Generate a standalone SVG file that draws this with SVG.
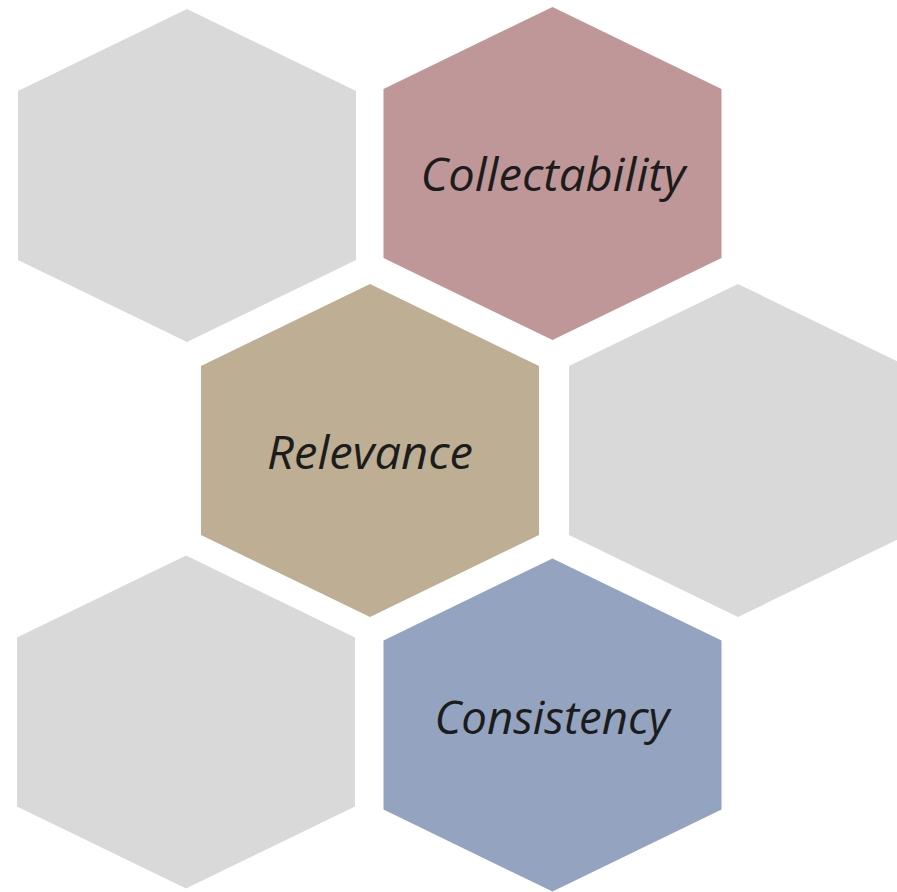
<svg xmlns="http://www.w3.org/2000/svg" width="897" height="892" viewBox="0 0 897 892">
<style>
.lbl{font-family:"Open Sans","Liberation Sans",sans-serif;font-style:italic;font-size:46px;fill:#1c1c1c;text-anchor:middle}
.gray{fill:#D9D9D9}
</style>
<defs>
<path id="hex" d="M0,-166.5 L169,-84.5 L169,84.5 L0,166.5 L-169,84.5 L-169,-84.5 Z"/>
</defs>
<rect width="897" height="892" fill="#FFFFFF"/>
<g id="connectors"/>
<g id="hex-top-left"><use href="#hex" class="gray" transform="translate(187,175.5)"/></g>
<g id="hex-collectability"><use href="#hex" fill="#BF9799" transform="translate(552.5,173.5)"/><text class="lbl" x="553" y="191" textLength="265" lengthAdjust="spacingAndGlyphs">Collectability</text></g>
<g id="hex-relevance"><use href="#hex" fill="#BEAE94" transform="translate(370,450.5)"/><text class="lbl" x="370" y="469" textLength="206" lengthAdjust="spacingAndGlyphs">Relevance</text></g>
<g id="hex-right"><use href="#hex" class="gray" transform="translate(738,450.5)"/></g>
<g id="hex-bottom-left"><use href="#hex" class="gray" transform="translate(186,722)"/></g>
<g id="hex-consistency"><use href="#hex" fill="#94A3BF" transform="translate(552.5,725)"/><text class="lbl" x="552" y="734" textLength="235" lengthAdjust="spacingAndGlyphs">Consistency</text></g>
</svg>
